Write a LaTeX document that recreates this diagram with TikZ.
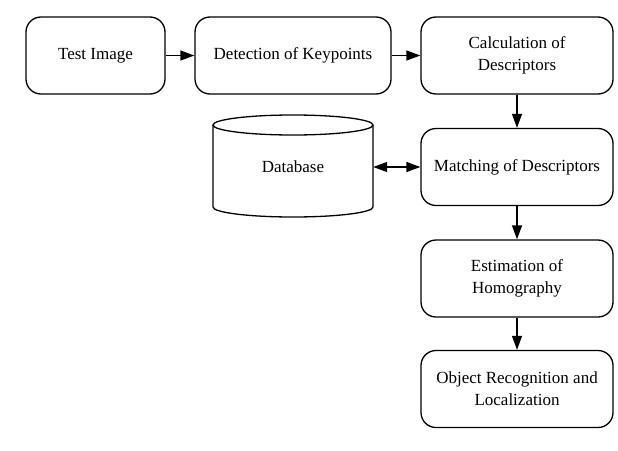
\documentclass[tikz,border=0pt]{standalone}
\usepackage{fontspec}
\setmainfont{Liberation Serif}
\usetikzlibrary{arrows.meta}
\begin{document}
\begin{tikzpicture}[x=1pt,y=-1pt,
  box/.style={draw, line width=1.3pt, rounded corners=15pt, align=center,
    font=\fontsize{17}{22}\selectfont, inner sep=0pt},
  conn/.style={line width=1.3pt, -{Triangle[length=14pt,width=10pt]}},
  dconn/.style={line width=1.3pt, {Triangle[length=14pt,width=10pt]}-{Triangle[length=14pt,width=10pt]}}]
\useasboundingbox (0,0) rectangle (618,450);
\node[box, minimum width=139pt, minimum height=77pt] (test) at (95.5,55.5) {Test Image};
\node[box, minimum width=196pt, minimum height=77pt] (det) at (293,55.5) {Detection of Keypoints};
\node[box, minimum width=192pt, minimum height=77pt] (calc) at (517,55.5) {Calculation of\\Descriptors};
\node[box, minimum width=192pt, minimum height=77pt] (match) at (517,167) {Matching of Descriptors};
\node[box, minimum width=192pt, minimum height=77pt] (est) at (517,278.5) {Estimation of\\Homography};
\node[box, minimum width=192pt, minimum height=77pt] (obj) at (517,389) {Object Recognition and\\Localization};
% database cylinder
\draw[line width=1.3pt] (293,125) ellipse [x radius=80pt, y radius=10pt];
\draw[line width=1.3pt] (213,125) -- (213,207) arc[start angle=180, end angle=360, x radius=80pt, y radius=10pt] -- (373,125);
\node[minimum width=160pt, minimum height=80pt, inner sep=0pt, font=\fontsize{17}{22}\selectfont] (db) at (293,167) {Database};
\draw[conn] (test) -- (det);
\draw[conn] (det) -- (calc);
\draw[conn] (calc) -- (match);
\draw[dconn] (db.east) -- (match.west);
\draw[conn] (match) -- (est);
\draw[conn] (est) -- (obj);
\end{tikzpicture}
\end{document}
